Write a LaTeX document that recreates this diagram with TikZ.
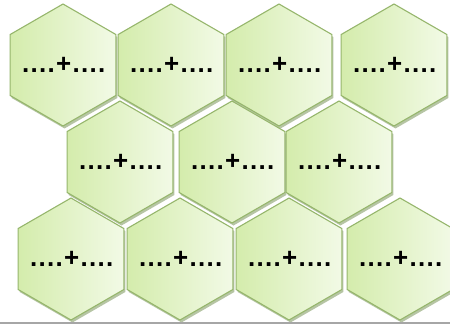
\documentclass[tikz,border=0pt]{standalone}
\usepackage{fontspec}
\setmainfont{Liberation Sans}
\usetikzlibrary{shapes.geometric,shadows}
\definecolor{hexborder}{RGB}{150,182,108}
\definecolor{hexdark}{RGB}{212,236,172}
\definecolor{hexlight}{RGB}{242,250,230}
\definecolor{hexshadow}{RGB}{110,140,75}
\newcommand{\cellmark}{\makebox[0pt]{\hspace{0.05em}....+....}}

\begin{document}
\begin{tikzpicture}[x=1bp,y=-1bp,
  hexcell/.style={regular polygon, regular polygon sides=6,
                  shape border rotate=90, minimum size=122bp, inner sep=0pt,
                  draw=hexborder, line width=1.1pt,
                  left color=hexdark, right color=hexlight,
                  drop shadow={shadow xshift=1.5pt, shadow yshift=-2.5pt,
                               fill=hexshadow, opacity=0.5},
                  font=\bfseries\fontsize{26}{28}\selectfont\addfontfeature{LetterSpace=5}}
]
\useasboundingbox (0,0) rectangle (450,324);
\fill[white] (0,0) rectangle (450,324);
% top row
\foreach \x [count=\i] in {63,171,279,394}
  \node[hexcell] (top\i) at (\x,65) {\cellmark};
% middle row
\foreach \x [count=\i] in {120,232,339}
  \node[hexcell] (mid\i) at (\x,162) {\cellmark};
% bottom row
\foreach \x [count=\i] in {71,180,289,400}
  \node[hexcell] (bot\i) at (\x,259) {\cellmark};
\fill[gray!70] (0,321.5) rectangle (450,324);
\end{tikzpicture}
\end{document}
